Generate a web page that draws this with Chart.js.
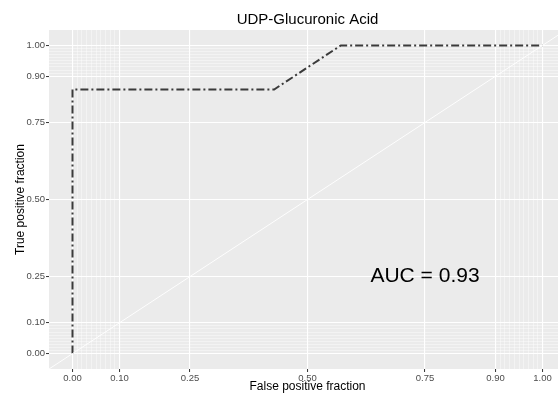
<!DOCTYPE html>
<html>
<head>
<meta charset="utf-8">
<script src="https://cdn.jsdelivr.net/npm/chart.js@4"></script>
<style>
  html, body { margin: 0; padding: 0; overflow: hidden; background: #fff; }
  #wrap { width: 558px; height: 396px; overflow: hidden; }
</style>
</head>
<body>
<div id="wrap"><canvas id="chart" width="566" height="396"></canvas></div>
<script>
// ROC curve points
const fpr = [0, 0, 0.429, 0.571, 1];
const tpr = [0, 0.857, 0.857, 1, 1];
const refLine = [-0.05, 1.05];

const majorBreaks = [0, 0.1, 0.25, 0.5, 0.75, 0.9, 1];
const minorBreaks = [0.01, 0.02, 0.03, 0.04, 0.05, 0.06, 0.07, 0.08, 0.09,
                     0.91, 0.92, 0.93, 0.94, 0.95, 0.96, 0.97, 0.98, 0.99];

const chartTitle = 'UDP-Glucuronic Acid';
const xTitle = 'False positive fraction';
const yTitle = 'True positive fraction';
const aucLabel = 'AUC = 0.93';
const aucPos = { x: 0.75, y: 0.25 };

const FONT = '"Liberation Sans", Arial, Helvetica, sans-serif';

const isMajor = v => majorBreaks.some(m => Math.abs(m - v) < 1e-6);
const allBreaks = majorBreaks.concat(minorBreaks).sort((a, b) => a - b);

function gridAxis(extra) {
  return Object.assign({
    type: 'linear',
    min: -0.05,
    max: 1.05,
    afterBuildTicks: s => { s.ticks = allBreaks.map(v => ({ value: v })); },
    ticks: {
      autoSkip: false,
      maxRotation: 0,
      minRotation: 0,
      padding: 1,
      color: '#4d4d4d',
      font: { family: FONT, size: 9.5 },
      callback: v => isMajor(v) ? v.toFixed(2) : ''
    },
    grid: {
      color: c => c.tick && isMajor(c.tick.value) ? '#ffffff' : 'rgba(255,255,255,0.8)',
      lineWidth: c => c.tick && isMajor(c.tick.value) ? 1.1 : 0.5,
      tickColor: c => c.tick && isMajor(c.tick.value) ? '#333333' : 'rgba(0,0,0,0)',
      tickLength: 3,
      tickWidth: 1
    },
    border: { display: false }
  }, extra);
}

const panelBg = {
  id: 'panelBg',
  beforeDraw(chart) {
    const { ctx, chartArea: a } = chart;
    ctx.save();
    ctx.fillStyle = '#ebebeb';
    ctx.fillRect(a.left, a.top, a.right - a.left, a.bottom - a.top);
    ctx.restore();
  }
};

const aucText = {
  id: 'aucText',
  afterDatasetsDraw(chart) {
    const { ctx, scales } = chart;
    ctx.save();
    ctx.font = '21px ' + FONT;
    ctx.fillStyle = '#000';
    ctx.textAlign = 'center';
    ctx.textBaseline = 'middle';
    ctx.fillText(aucLabel, scales.x.getPixelForValue(aucPos.x), scales.y.getPixelForValue(aucPos.y));
    ctx.restore();
  }
};

const ctx = document.getElementById('chart').getContext('2d');
new Chart(ctx, {
  type: 'line',
  data: {
    datasets: [
      {
        label: 'reference',
        data: refLine.map(v => ({ x: v, y: v })),
        borderColor: 'rgba(255,255,255,0.9)',
        borderWidth: 1,
        pointRadius: 0
      },
      {
        label: 'ROC',
        data: fpr.map((x, i) => ({ x: x, y: tpr[i] })),
        borderColor: '#3a3a3a',
        borderWidth: 2,
        borderDash: [8, 3, 2, 3],
        borderCapStyle: 'butt',
        pointRadius: 0,
        tension: 0
      }
    ]
  },
  options: {
    responsive: false,
    animation: false,
    layout: { padding: 0 },
    plugins: {
      legend: { display: false },
      tooltip: { enabled: false },
      title: { display: false }
    },
    scales: {
      x: gridAxis({
        position: 'bottom',
        afterFit: s => { s.height = 27; },
        title: {
          display: true, text: xTitle, color: '#000',
          font: { family: FONT, size: 12 }, padding: { top: 0, bottom: 2 }
        }
      }),
      y: gridAxis({
        position: 'left',
        afterFit: s => { s.width = 49; },
        title: {
          display: true, text: yTitle, color: '#000',
          font: { family: FONT, size: 12 }, padding: { top: 13, bottom: 0 }
        }
      }),
      top: {
        type: 'linear', position: 'top', min: -0.05, max: 1.05,
        afterFit: s => { s.height = 30; },
        ticks: { display: false },
        grid: { display: false, drawTicks: false },
        border: { display: false },
        title: {
          display: true, text: chartTitle, color: '#000',
          font: { family: FONT, size: 15 }, padding: { top: 11, bottom: 0 }
        }
      }
    }
  },
  plugins: [panelBg, aucText]
});
</script>
</body>
</html>
